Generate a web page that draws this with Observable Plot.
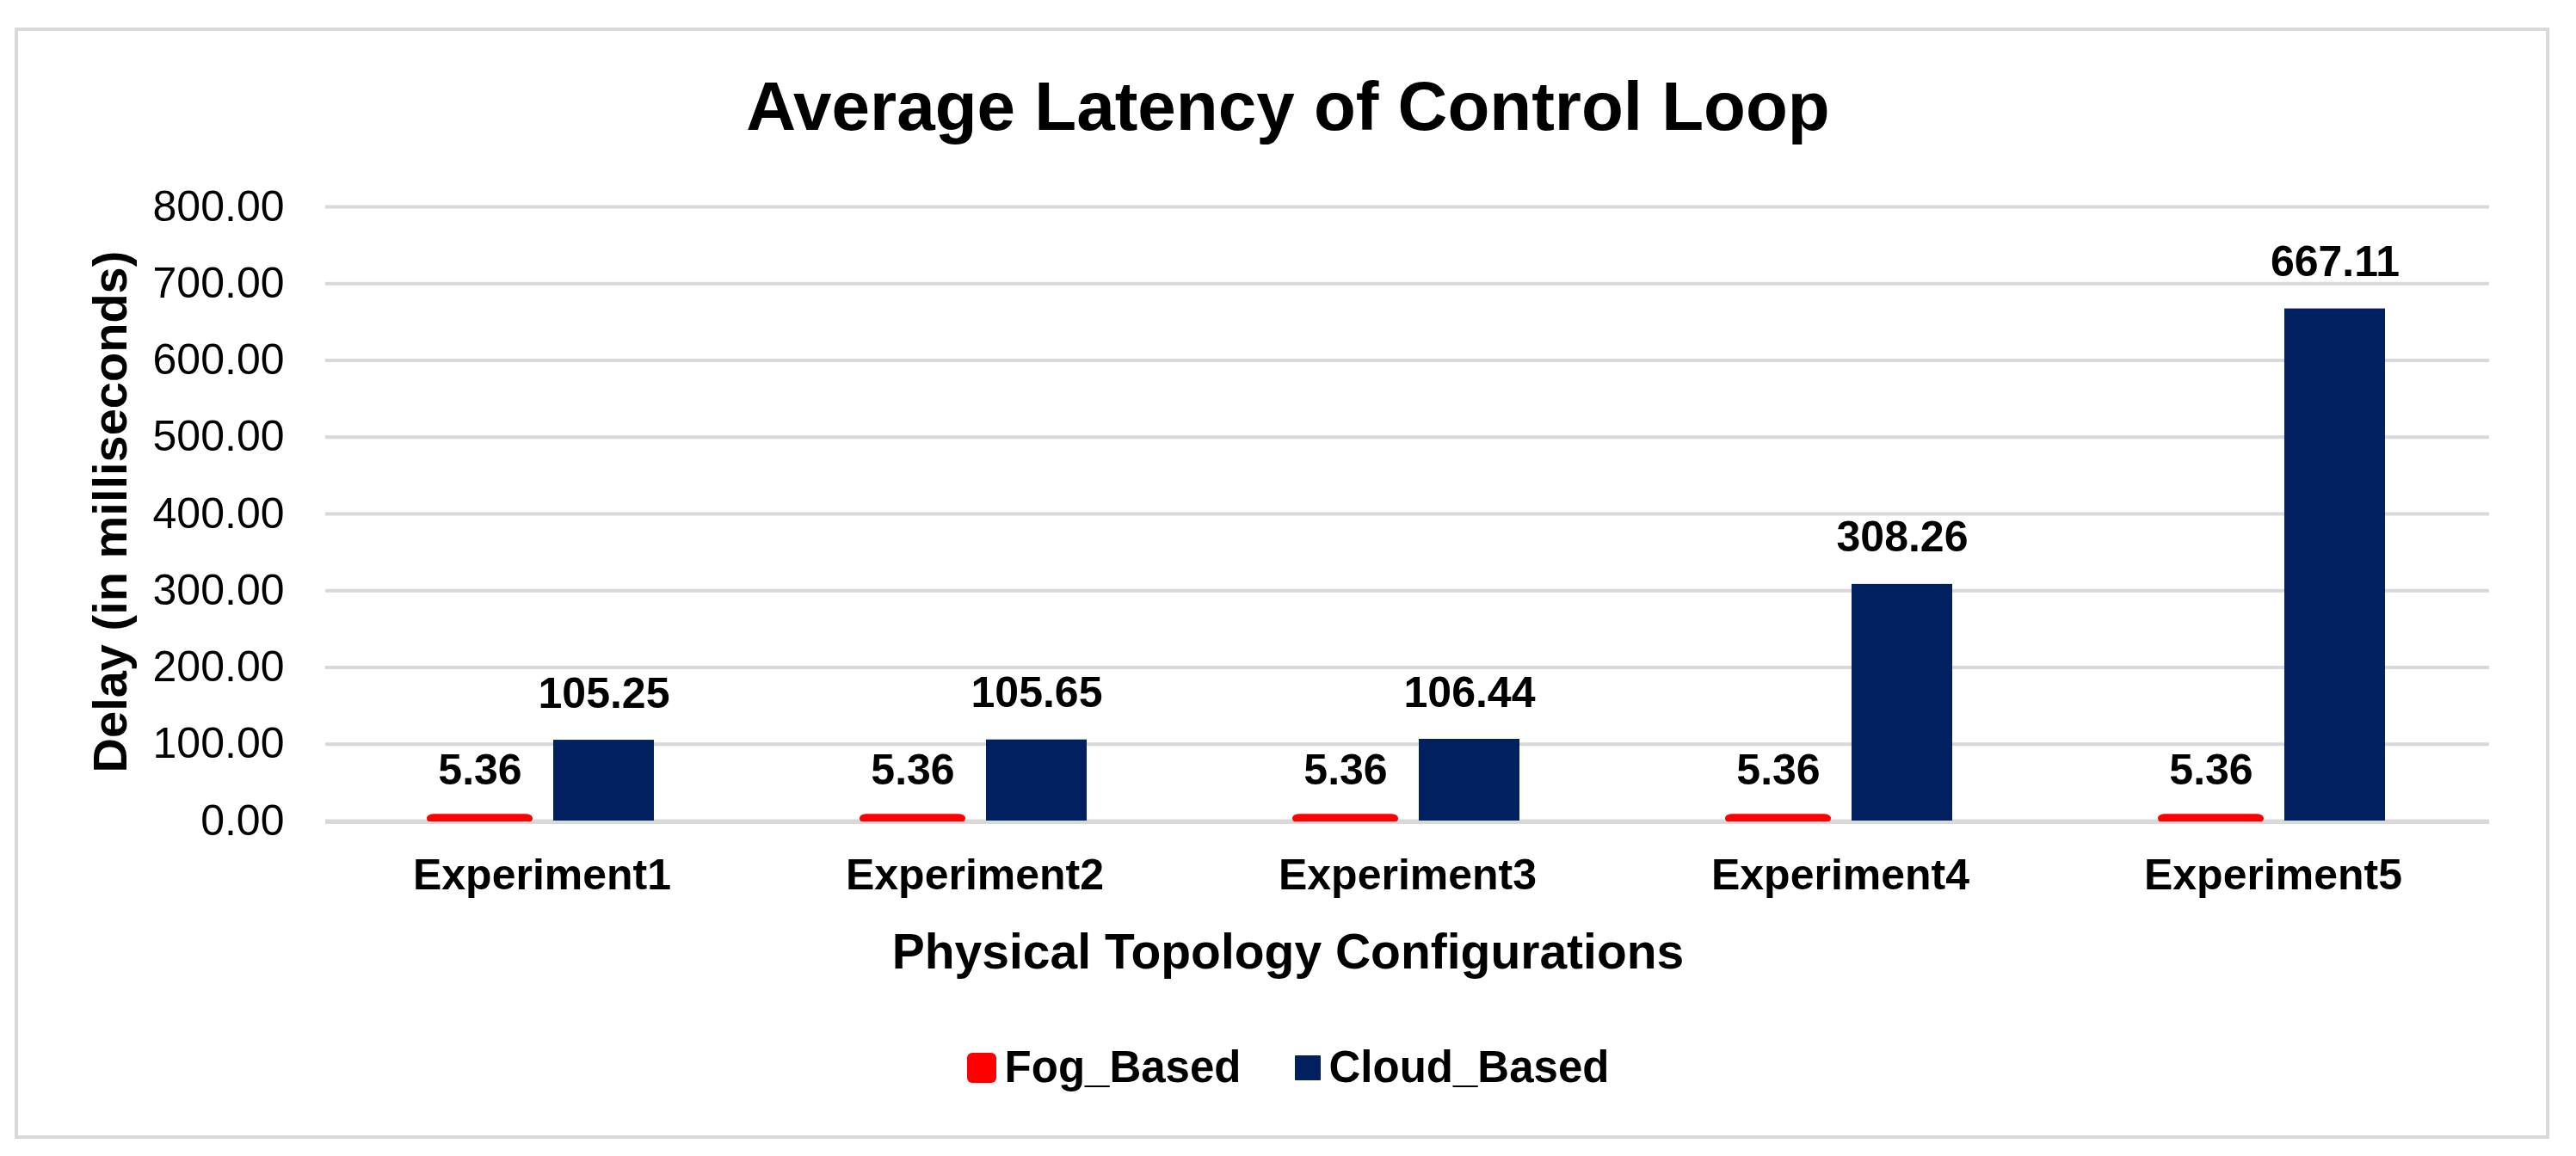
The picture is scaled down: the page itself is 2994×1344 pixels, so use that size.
<!DOCTYPE html>
<html><head><meta charset="utf-8">
<script src="https://cdn.jsdelivr.net/npm/d3@7"></script>
<script src="https://cdn.jsdelivr.net/npm/@observablehq/plot@0.6"></script>
<style>
html,body{margin:0;padding:0;background:#fff;}
body{width:2994px;height:1344px;position:relative;overflow:hidden;font-family:"Liberation Sans",Arial,sans-serif;color:#000;}
#frame{position:absolute;left:17px;top:32px;width:2946px;height:1292px;border:4px solid #d9d9d9;box-sizing:border-box;}
#title{position:absolute;left:0;width:2994px;top:79px;text-align:center;font-weight:bold;font-size:80px;line-height:90px;white-space:nowrap;}
#chart{position:absolute;left:0;top:180px;}
#ylabel{position:absolute;left:128px;top:595px;transform:translate(-50%,-50%) rotate(-90deg);font-weight:bold;font-size:56px;line-height:64px;white-space:nowrap;}
#xlabel{position:absolute;left:0;width:2994px;top:1073px;text-align:center;font-weight:bold;font-size:57px;line-height:66px;white-space:nowrap;}
#legend{position:absolute;left:0;width:2994px;top:1209px;display:flex;justify-content:center;align-items:center;font-weight:bold;font-size:51px;line-height:64px;}
.item{display:flex;align-items:center;}
.item + .item{margin-left:62px;}
.sw{margin-right:10px;}
</style>
</head><body>
<div id="frame"></div>
<div id="title">Average Latency of Control Loop</div>
<div id="chart"></div>
<div id="ylabel">Delay (in milliseconds)</div>
<div id="xlabel">Physical Topology Configurations</div>
<div id="legend"></div>
<script>
const experiments = ["Experiment1", "Experiment2", "Experiment3", "Experiment4", "Experiment5"];
const seriesNames = ["Fog_Based", "Cloud_Based"];
const fogValues = [5.36, 5.36, 5.36, 5.36, 5.36];
const cloudValues = [105.25, 105.65, 106.44, 308.26, 667.11];
const yTicks = [0, 100, 200, 300, 400, 500, 600, 700, 800];
const seriesColors = ["#ff0000", "#002060"];

const rows = experiments.flatMap((e, i) => [
  {experiment: e, series: seriesNames[0], value: fogValues[i]},
  {experiment: e, series: seriesNames[1], value: cloudValues[i]}
]);
const fogRows = rows.filter(d => d.series === seriesNames[0]);
const cloudRows = rows.filter(d => d.series === seriesNames[1]);

const chart = Plot.plot({
  width: 2994,
  height: 1000,
  marginLeft: 376,
  marginRight: 99,
  marginTop: 60,
  marginBottom: 226,
  style: {fontFamily: "'Liberation Sans', Arial, sans-serif", fontSize: "50px", color: "#000", background: "transparent"},
  fx: {domain: experiments, padding: 0},
  x: {domain: seriesNames, paddingInner: 0.186, paddingOuter: 0.831},
  y: {domain: [0, 800]},
  color: {domain: seriesNames, range: seriesColors},
  marks: [
    Plot.gridY(yTicks, {stroke: "#d9d9d9", strokeOpacity: 1, strokeWidth: 4}),
    Plot.axisY(yTicks, {tickSize: 0, tickPadding: 48, tickFormat: d3.format(".2f"), label: null, fontSize: 50}),
    Plot.axisFx({anchor: "bottom", tickSize: 0, tickPadding: 44, label: null, fontWeight: "bold", fontSize: 50}),
    Plot.axisX({ticks: [], label: null, tickSize: 0}),
    Plot.barY(fogRows, {fx: "experiment", x: "series", y: "value", fill: "series", stroke: "series", strokeWidth: 6, strokeLinejoin: "round", rx: 5}),
    Plot.barY(cloudRows, {fx: "experiment", x: "series", y: "value", fill: "series"}),
    Plot.ruleY([0], {stroke: "#d9d9d9", strokeWidth: 3, dy: 2}),
    Plot.text(rows, {fx: "experiment", x: "series", y: "value", text: d => d.value.toFixed(2), dy: -54, lineAnchor: "middle", fontWeight: "bold", fontSize: 50, fill: "#000"})
  ]
});
document.getElementById("chart").appendChild(chart);

const swatchSizes = [[34, 35, 6], [30, 29, 1]];
const legend = document.getElementById("legend");
seriesNames.forEach((name, i) => {
  const item = document.createElement("div");
  item.className = "item";
  const sw = document.createElement("div");
  sw.className = "sw";
  sw.style.background = seriesColors[i];
  sw.style.width = swatchSizes[i][0] + "px";
  sw.style.height = swatchSizes[i][1] + "px";
  sw.style.borderRadius = swatchSizes[i][2] + "px";
  const label = document.createElement("span");
  label.textContent = name;
  item.appendChild(sw);
  item.appendChild(label);
  legend.appendChild(item);
});
</script>
</body></html>
